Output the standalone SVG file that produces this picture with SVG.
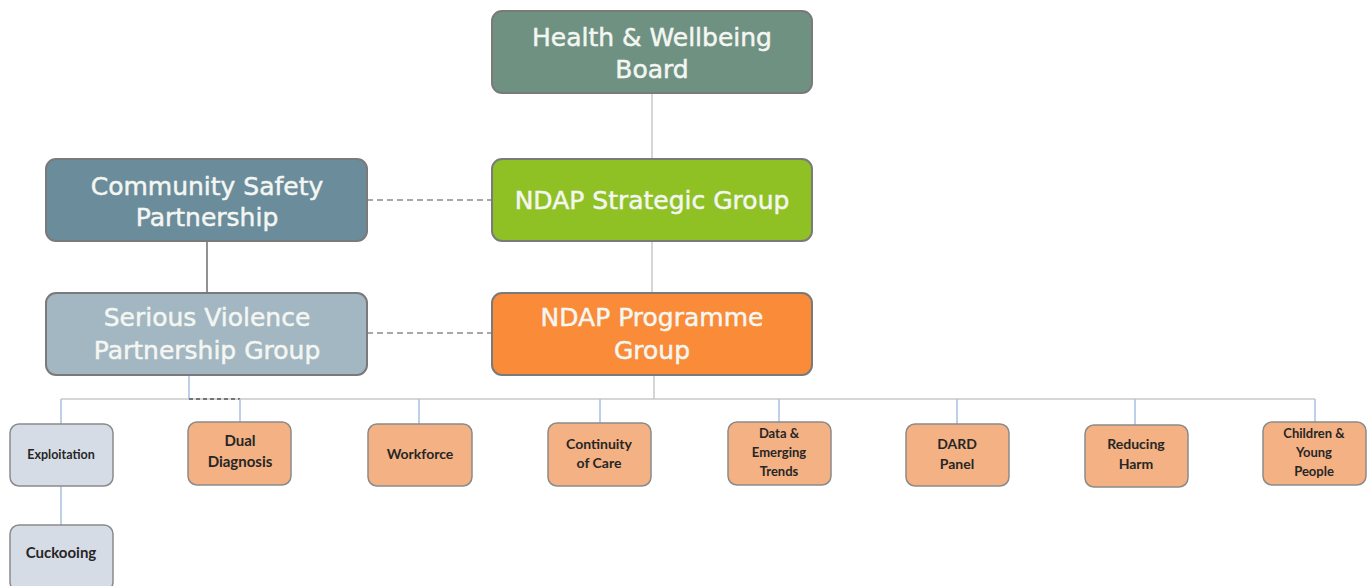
<svg xmlns="http://www.w3.org/2000/svg" width="1370" height="586" viewBox="0 0 1370 586">
<style>
.big{stroke:#7a7a7a;stroke-width:2}
.bt{font-family:"DejaVu Sans",sans-serif;font-size:25px;fill:#f4f6f2;stroke:#f4f6f2;stroke-width:0.5;text-anchor:middle}
.sm{stroke:#8a8a8a;stroke-width:1.5}
.or{fill:#f4b183}
.gr{fill:#d6dce5}
.st{font-family:Lato,"Liberation Sans",sans-serif;font-weight:bold;font-size:14px;fill:#262626;text-anchor:middle}
.lg{stroke:#c8c8c8;stroke-width:1.5;fill:none}
.lb{stroke:#a9c0e2;stroke-width:1.5;fill:none}
.dash{stroke:#8a8a8a;stroke-width:1.5;stroke-dasharray:6 4;fill:none}
</style>
<rect width="1370" height="586" fill="#fff"/>
<g id="connectors">
<line class="lg" x1="652" y1="93" x2="652" y2="159"/>
<line class="lg" x1="652" y1="241" x2="652" y2="293"/>
<line class="lg" x1="654" y1="375" x2="654" y2="399"/>
<line x1="207" y1="241" x2="207" y2="293" stroke="#6e6e6e" stroke-width="1.5"/>
<line class="dash" x1="367" y1="200" x2="492" y2="200"/>
<line class="dash" x1="367" y1="333" x2="492" y2="333"/>
<line class="lg" x1="61" y1="399" x2="1315" y2="399"/>
<line class="lb" x1="189" y1="375" x2="189" y2="399"/>
<line x1="189" y1="399" x2="240" y2="399" stroke="#555" stroke-width="1.5" stroke-dasharray="4 3"/>
<line class="lb" x1="61" y1="399" x2="61" y2="424"/>
<line class="lb" x1="61" y1="486" x2="61" y2="525"/>
<line class="lb" x1="240" y1="399" x2="240" y2="422"/>
<line class="lb" x1="419" y1="399" x2="419" y2="424"/>
<line class="lb" x1="600" y1="399" x2="600" y2="423"/>
<line class="lb" x1="779" y1="399" x2="779" y2="422"/>
<line class="lb" x1="957" y1="399" x2="957" y2="424"/>
<line class="lb" x1="1135" y1="399" x2="1135" y2="425"/>
<line class="lb" x1="1315" y1="399" x2="1315" y2="422"/>
</g>
<g id="health">
<rect class="big" x="492" y="11" width="320" height="82" rx="10" fill="#6f9182"/>
<text class="bt" x="652" y="46">Health &amp; Wellbeing</text>
<text class="bt" x="652" y="78">Board</text>
</g>
<g id="strategic">
<rect class="big" x="492" y="159" width="320" height="82" rx="10" fill="#8fc125"/>
<text class="bt" x="652" y="209">NDAP Strategic Group</text>
</g>
<g id="programme">
<rect class="big" x="492" y="293" width="320" height="82" rx="10" fill="#fa8b38"/>
<text class="bt" x="652" y="326">NDAP Programme</text>
<text class="bt" x="652" y="359">Group</text>
</g>
<g id="csp">
<rect class="big" x="46" y="159" width="321" height="82" rx="10" fill="#6a8c9b"/>
<text class="bt" x="207" y="195">Community Safety</text>
<text class="bt" x="207" y="226">Partnership</text>
</g>
<g id="svpg">
<rect class="big" x="46" y="293" width="321" height="82" rx="10" fill="#a2b7c1"/>
<text class="bt" x="207" y="326">Serious Violence</text>
<text class="bt" x="207" y="359">Partnership Group</text>
</g>
<g id="exploitation">
<rect class="sm gr" x="10" y="424" width="103" height="62" rx="9"/>
<text class="st" x="61" y="459" style="font-size:12.5px">Exploitation</text>
</g>
<g id="cuckooing">
<rect class="sm gr" x="10" y="525" width="103" height="66" rx="9"/>
<text class="st" x="61" y="558" style="font-size:15px">Cuckooing</text>
</g>
<g id="dual">
<rect class="sm or" x="188" y="422" width="103" height="63" rx="9"/>
<text class="st" x="240" y="446" style="font-size:15px">Dual</text>
<text class="st" x="240" y="467" style="font-size:15px">Diagnosis</text>
</g>
<g id="workforce">
<rect class="sm or" x="368" y="424" width="104" height="62" rx="9"/>
<text class="st" x="420" y="459">Workforce</text>
</g>
<g id="continuity">
<rect class="sm or" x="548" y="423" width="103" height="63" rx="9"/>
<text class="st" x="599" y="449">Continuity</text>
<text class="st" x="599" y="468">of Care</text>
</g>
<g id="data">
<rect class="sm or" x="728" y="422" width="103" height="63" rx="9"/>
<text class="st" x="779" y="438" style="font-size:13px">Data &amp;</text>
<text class="st" x="779" y="457" style="font-size:13px">Emerging</text>
<text class="st" x="779" y="476" style="font-size:13px">Trends</text>
</g>
<g id="dard">
<rect class="sm or" x="906" y="424" width="103" height="62" rx="9"/>
<text class="st" x="957" y="449">DARD</text>
<text class="st" x="957" y="469">Panel</text>
</g>
<g id="reducing">
<rect class="sm or" x="1085" y="425" width="103" height="62" rx="9"/>
<text class="st" x="1136" y="449">Reducing</text>
<text class="st" x="1136" y="469">Harm</text>
</g>
<g id="children">
<rect class="sm or" x="1263" y="422" width="103" height="63" rx="9"/>
<text class="st" x="1314" y="438" style="font-size:13px">Children &amp;</text>
<text class="st" x="1314" y="457" style="font-size:13px">Young</text>
<text class="st" x="1314" y="476" style="font-size:13px">People</text>
</g>
</svg>
